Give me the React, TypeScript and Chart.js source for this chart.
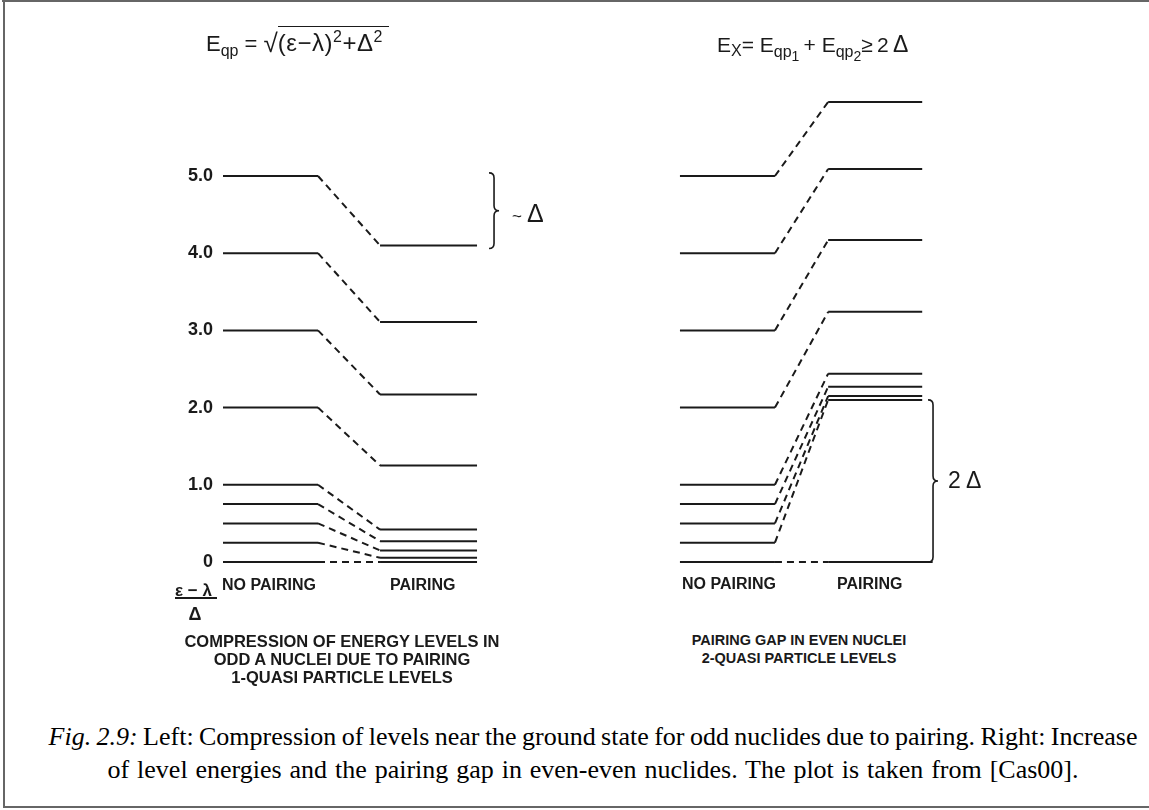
import React, { useEffect, useRef } from "react";
import { Chart, registerables } from "chart.js";

Chart.register(...registerables);

// ---------------- data ----------------
const noPairingLevels = [5.0, 4.0, 3.0, 2.0, 1.0, 0.75, 0.5, 0.25, 0.0];
const oddPairingLevels = [4.1, 3.11, 2.17, 1.25, 0.42, 0.27, 0.15, 0.055, 0.0];
const evenPairingLevels = [5.96, 5.09, 4.17, 3.24, 2.44, 2.27, 2.15, 2.1, 0.0];
const yTicks = [0, 1, 2, 3, 4, 5];
const yTickLabels = ["0", "1.0", "2.0", "3.0", "4.0", "5.0"];
const deltaBrace = [4.06, 5.04];
const gapBrace = [0.0, 2.1];

// column spans (x scale units)
const leftNoSpan = [0, 1];
const leftPairSpan = [1.653, 2.674];
const rightNoSpan = [4.81, 5.81];
const rightPairSpan = [6.37, 7.36];
const rightGroundEnd = 7.47;
const leftBraceX = 2.853;
const rightBraceX = 7.474;

// ---------------- layout / style ----------------
const INK = "#1a1a1a";
const SANS = '"Liberation Sans", Arial, Helvetica, sans-serif';
const SERIF = '"Liberation Serif", "Times New Roman", serif';
const CANVAS_LEFT = 150;
const CANVAS_TOP = 40;
const CANVAS_W = 850;
const CANVAS_H = 580;
const PAD_V = 20;
const AXIS_W = 68;
const ZERO_Y = 562; // page px of value 0
const PX_PER_Y = 77.2;
const X0_PAGE = 223; // page px of x = 0
const PX_PER_X = 95;

const areaTop = CANVAS_TOP + PAD_V;
const areaBottom = CANVAS_TOP + CANVAS_H - PAD_V;
const areaLeft = CANVAS_LEFT + AXIS_W;
const areaRight = CANVAS_LEFT + CANVAS_W;
const Y_MAX = (ZERO_Y - areaTop) / PX_PER_Y;
const Y_MIN = -(areaBottom - ZERO_Y) / PX_PER_Y;
const X_MIN = (areaLeft - X0_PAGE) / PX_PER_X;
const X_MAX = (areaRight - X0_PAGE) / PX_PER_X;

function seg(x0: number, y0: number, x1: number, y1: number, dashed: boolean) {
  return {
    data: [
      { x: x0, y: y0 },
      { x: x1, y: y1 },
    ],
    showLine: true,
    borderColor: INK,
    backgroundColor: INK,
    borderWidth: 2,
    borderDash: dashed ? [7, 5] : [],
    pointRadius: 0,
    pointHoverRadius: 0,
    fill: false,
  };
}

function buildDatasets() {
  const ds: any[] = [];
  noPairingLevels.forEach((lv, i) => {
    const p = oddPairingLevels[i];
    ds.push(seg(leftNoSpan[0], lv, leftNoSpan[1], lv, false));
    ds.push(seg(leftNoSpan[1], lv, leftPairSpan[0], p, true));
    ds.push(seg(leftPairSpan[0], p, leftPairSpan[1], p, false));
  });
  noPairingLevels.forEach((lv, i) => {
    const p = evenPairingLevels[i];
    const end = i === noPairingLevels.length - 1 ? rightGroundEnd : rightPairSpan[1];
    ds.push(seg(rightNoSpan[0], lv, rightNoSpan[1], lv, false));
    ds.push(seg(rightNoSpan[1], lv, rightPairSpan[0], p, true));
    ds.push(seg(rightPairSpan[0], p, end, p, false));
  });
  return ds;
}

const bracePlugin = {
  id: "braces",
  afterDatasetsDraw(chart: any) {
    const { ctx } = chart;
    const xs = chart.scales.x;
    const ys = chart.scales.y;
    const draw = (xv: number, y0v: number, y1v: number) => {
      const sx = xs.getPixelForValue(xv);
      const top = ys.getPixelForValue(y1v);
      const bot = ys.getPixelForValue(y0v);
      const mid = (top + bot) / 2;
      const w = 5;
      ctx.save();
      ctx.strokeStyle = INK;
      ctx.lineWidth = 1.6;
      ctx.beginPath();
      ctx.moveTo(sx - w, top);
      ctx.quadraticCurveTo(sx, top, sx, top + w);
      ctx.lineTo(sx, mid - w);
      ctx.quadraticCurveTo(sx, mid, sx + w, mid);
      ctx.quadraticCurveTo(sx, mid, sx, mid + w);
      ctx.lineTo(sx, bot - w);
      ctx.quadraticCurveTo(sx, bot, sx - w, bot);
      ctx.stroke();
      ctx.restore();
    };
    draw(leftBraceX, deltaBrace[0], deltaBrace[1]);
    draw(rightBraceX, gapBrace[0], gapBrace[1]);
  },
};

type TxtProps = {
  x: number;
  y: number;
  size: number;
  bold?: boolean;
  center?: boolean;
  children: React.ReactNode;
};

function Txt({ x, y, size, bold = true, center = false, children }: TxtProps) {
  return (
    <div
      style={{
        position: "absolute",
        left: x,
        top: y - 0.49 * size,
        fontSize: size,
        lineHeight: 1,
        fontWeight: bold ? "bold" : "normal",
        whiteSpace: "nowrap",
        transform: center ? "translateX(-50%)" : undefined,
        fontFamily: SANS,
        color: INK,
      }}
    >
      {children}
    </div>
  );
}

const sub = (size: number, top: number): React.CSSProperties => ({
  fontSize: size,
  position: "relative",
  top,
  lineHeight: 0,
});

export default function App() {
  const ref = useRef<HTMLCanvasElement>(null);

  useEffect(() => {
    if (!ref.current) return;
    const chart = new Chart(ref.current, {
      type: "scatter",
      data: { datasets: buildDatasets() },
      options: {
        animation: false,
        responsive: false,
        devicePixelRatio: 1,
        layout: { padding: { top: PAD_V, bottom: PAD_V, left: 0, right: 0 } },
        plugins: {
          legend: { display: false },
          tooltip: { enabled: false },
          title: { display: false },
        },
        events: [],
        scales: {
          x: {
            type: "linear",
            display: false,
            min: X_MIN,
            max: X_MAX,
          },
          y: {
            type: "linear",
            min: Y_MIN,
            max: Y_MAX,
            afterBuildTicks: (scale: any) => {
              scale.ticks = yTicks.map((v) => ({ value: v }));
            },
            afterFit: (scale: any) => {
              scale.width = AXIS_W;
            },
            grid: { display: false, drawTicks: false },
            border: { display: false },
            ticks: {
              autoSkip: false,
              padding: 5,
              color: INK,
              font: { family: SANS, size: 18, weight: "bold" },
              callback: (v: any) => {
                const i = yTicks.indexOf(Number(v));
                return i >= 0 ? yTickLabels[i] : "";
              },
            },
          },
        },
      },
      plugins: [bracePlugin],
    } as any);
    return () => chart.destroy();
  }, []);

  return (
    <div
      style={{
        position: "absolute",
        left: 0,
        top: 0,
        width: 1149,
        height: 810,
        background: "#fff",
        overflow: "hidden",
        fontFamily: SANS,
        color: INK,
      }}
    >
      {/* frame */}
      <div style={{ position: "absolute", left: 2, top: 0, width: 1147, height: 2, background: "#666" }} />
      <div style={{ position: "absolute", left: 3, top: 0, width: 2, height: 808, background: "#666" }} />
      <div style={{ position: "absolute", left: 3, top: 806, width: 1146, height: 2, background: "#666" }} />

      <canvas
        ref={ref}
        width={CANVAS_W}
        height={CANVAS_H}
        style={{ position: "absolute", left: CANVAS_LEFT, top: CANVAS_TOP, width: CANVAS_W, height: CANVAS_H }}
      />

      {/* titles */}
      <div
        style={{
          position: "absolute",
          left: 206,
          top: 33,
          fontSize: 22,
          lineHeight: 1,
          whiteSpace: "nowrap",
          fontFamily: SANS,
          color: INK,
        }}
      >
        E<span style={sub(16, 5)}>qp</span> ={" "}
        <span style={{ fontSize: 26, position: "relative", top: 1, lineHeight: 0 }}>√</span>
        <span
          style={{
            borderTop: `1.6px solid ${INK}`,
            paddingTop: 2,
            paddingRight: 6,
            fontSize: 24,
            lineHeight: 0,
            letterSpacing: 0.5,
          }}
        >
          (ε−λ)<span style={sub(16, -9)}>2</span>+Δ<span style={sub(16, -9)}>2</span>
        </span>
      </div>
      <div
        style={{
          position: "absolute",
          left: 717,
          top: 34,
          fontSize: 21,
          lineHeight: 1,
          whiteSpace: "nowrap",
          fontFamily: SANS,
          color: INK,
        }}
      >
        E<span style={sub(16, 4)}>X</span>= E
        <span style={sub(16, 5)}>
          qp<span style={sub(14, 4)}>1</span>
        </span>
        {"\u2009"}+ E
        <span style={sub(16, 5)}>
          qp<span style={sub(14, 4)}>2</span>
        </span>
        ≥{"\u2009"}2{"\u2009"}
        <span style={{ fontSize: 23, lineHeight: 0 }}>Δ</span>
      </div>

      {/* axis column labels */}
      <Txt x={222} y={585} size={16}>NO PAIRING</Txt>
      <Txt x={390} y={585} size={16}>PAIRING</Txt>
      <Txt x={682} y={583.5} size={16}>NO PAIRING</Txt>
      <Txt x={837} y={583.5} size={16}>PAIRING</Txt>

      {/* fraction (ε − λ)/Δ */}
      <div
        style={{
          position: "absolute",
          left: 175,
          top: 596 - 0.85 * 17,
          fontSize: 17,
          lineHeight: 1,
          fontWeight: "bold",
          whiteSpace: "nowrap",
          fontFamily: SANS,
        }}
      >
        ε − λ
      </div>
      <div style={{ position: "absolute", left: 175, top: 597, width: 42, height: 2, background: INK }} />
      <Txt x={195} y={613.5} size={18} center>
        Δ
      </Txt>

      {/* brace labels */}
      <Txt x={512} y={213} size={25} bold={false}>
        <span style={{ fontSize: 17 }}>~</span>
        {"\u2009"}Δ
      </Txt>
      <Txt x={948} y={480} size={23} bold={false}>
        2 Δ
      </Txt>

      {/* panel descriptions */}
      <Txt x={342} y={641} size={16.5} center>COMPRESSION OF ENERGY LEVELS IN</Txt>
      <Txt x={342} y={659.5} size={16.5} center>ODD A NUCLEI DUE TO PAIRING</Txt>
      <Txt x={342} y={677.5} size={16.5} center>1-QUASI PARTICLE LEVELS</Txt>
      <Txt x={799} y={640} size={14.5} center>PAIRING GAP IN EVEN NUCLEI</Txt>
      <Txt x={799} y={658.5} size={14.5} center>2-QUASI PARTICLE LEVELS</Txt>

      {/* caption */}
      <div
        style={{
          position: "absolute",
          left: 43,
          width: 1100,
          top: 720,
          textAlign: "center",
          fontFamily: SERIF,
          fontSize: 26,
          lineHeight: "33px",
          color: "#000",
          whiteSpace: "nowrap",
        }}
      >
        <div style={{ wordSpacing: -1.1 }}>
          <i>Fig. 2.9:</i> Left: Compression of levels near the ground state for odd nuclides due to pairing. Right:
          Increase
        </div>
        <div style={{ wordSpacing: 1.4 }}>
          of level energies and the pairing gap in even-even nuclides. The plot is taken from [Cas00].
        </div>
      </div>
    </div>
  );
}
